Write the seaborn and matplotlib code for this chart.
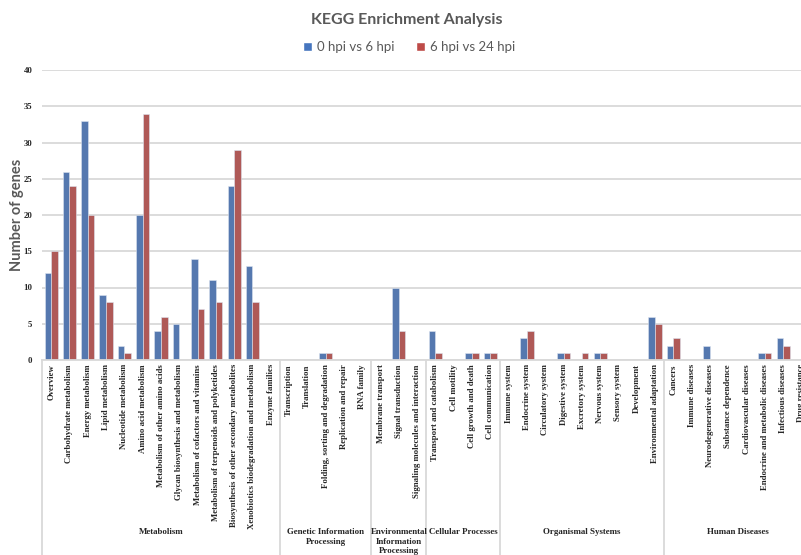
import matplotlib
matplotlib.use("Agg")
import matplotlib.pyplot as plt
import matplotlib.transforms as mtransforms
from matplotlib.lines import Line2D
from matplotlib.patches import Patch
import seaborn as sns
import pandas as pd

# KEGG level-2 pathway categories, grouped by level-1 class
metabolism = [
    "Overview", "Carbohydrate metabolism", "Energy metabolism", "Lipid metabolism",
    "Nucleotide metabolism", "Amino acid metabolism", "Metabolism of other amino acids",
    "Glycan biosynthesis and metabolism", "Metabolism of cofactors and vitamins",
    "Metabolism of terpenoids and polyketides", "Biosynthesis of other secondary metabolites",
    "Xenobiotics biodegradation and metabolism", "Enzyme families",
]
genetic = ["Transcription", "Translation", "Folding, sorting and degradation",
           "Replication and repair", "RNA family"]
environmental = ["Membrane transport", "Signal transduction",
                 "Signaling molecules and interaction"]
cellular = ["Transport and catabolism", "Cell motility", "Cell growth and death",
            "Cell communication"]
organismal = ["Immune system", "Endocrine system", "Circulatory system", "Digestive system",
              "Excretory system", "Nervous system", "Sensory system", "Development",
              "Environmental adaptation"]
diseases = ["Cancers", "Immune diseases", "Neurodegenerative diseases", "Substance dependence",
            "Cardiovascular diseases", "Endocrine and metabolic diseases",
            "Infectious diseases", "Drug resistance"]

group_names = ["Metabolism", "Genetic Information\nProcessing",
               "Environmental\nInformation\nProcessing", "Cellular Processes",
               "Organismal Systems", "Human Diseases"]
groups = [metabolism, genetic, environmental, cellular, organismal, diseases]

# gene counts per category
genes_0_6 = [12, 26, 33, 9, 2, 20, 4, 5, 14, 11, 24, 13, 0,
             0, 0, 1, 0, 0,
             0, 10, 0,
             4, 0, 1, 1,
             0, 3, 0, 1, 0, 1, 0, 0, 6,
             2, 0, 2, 0, 0, 1, 3, 0]
genes_6_24 = [15, 24, 20, 8, 1, 34, 6, 0, 7, 8, 29, 8, 0,
              0, 0, 1, 0, 0,
              0, 4, 0,
              1, 0, 1, 1,
              0, 4, 0, 1, 1, 1, 0, 0, 5,
              3, 0, 0, 0, 0, 1, 2, 0]
series = ["0 hpi vs 6 hpi", "6 hpi vs 24 hpi"]

categories = [c for g in groups for c in g]
df = pd.DataFrame({
    "category": categories * 2,
    "genes": genes_0_6 + genes_6_24,
    "comparison": [series[0]] * len(categories) + [series[1]] * len(categories),
})

blue, red = "#4675BE", "#BE4B48"
grid_c = "#D9D9D9"
text_c = "#595959"

sns.set_style("white")
fig = plt.figure(figsize=(8.01, 5.55), dpi=100)
n = len(categories)
ax = fig.add_axes([42 / 801, 195 / 555, n * 18.3 / 801, 290 / 555])

sns.barplot(data=df, x="category", y="genes", hue="comparison", order=categories,
            hue_order=series, palette=[blue, red], width=0.72, ax=ax,
            edgecolor="#DCE4F0", linewidth=0.4, legend=False)

ax.set_xlim(-0.5, n - 0.5)
ax.set_ylim(0, 40)
ax.set_yticks(range(0, 41, 5))
ax.yaxis.grid(True, color=grid_c, linewidth=1.3)
ax.set_axisbelow(True)
for s in ["top", "right", "left"]:
    ax.spines[s].set_visible(False)
ax.spines["bottom"].set_color(grid_c)
ax.spines["bottom"].set_linewidth(1.3)
ax.tick_params(axis="y", length=0, pad=7)
ax.tick_params(axis="x", length=0, pad=3)
ax.set_xticks(range(n))
ax.set_xticklabels(categories, rotation=90, fontsize=6.3, fontweight="bold",
                   family="Liberation Serif", va="top")
for lbl in ax.get_yticklabels():
    lbl.set_fontsize(6.3)
    lbl.set_fontweight("bold")
    lbl.set_family("Liberation Serif")
ax.set_xlabel("")
ax.set_ylabel("")

# class separators and class names beneath the category labels
trans = mtransforms.blended_transform_factory(ax.transData, fig.transFigure)
y_axis = 195 / 555
start = 0
bounds = [-0.5]
for g in groups:
    start += len(g)
    bounds.append(start - 0.5)
for b in bounds:
    fig.add_artist(Line2D([b, b], [0, y_axis], transform=trans, color=grid_c,
                          linewidth=1.3, clip_on=False))
for i, name in enumerate(group_names):
    mid = (bounds[i] + bounds[i + 1]) / 2
    fig.text(mid, (555 - 528) / 555, name, transform=trans, ha="center", va="top",
             fontsize=6.4, fontweight="bold", family="Liberation Serif",
             linespacing=1.25)

fig.text(407 / 801, 1 - 20 / 555, "KEGG Enrichment Analysis", ha="center", va="center",
         fontsize=11.5, fontweight="bold", color=text_c, family="Lato")
fig.text(17 / 801, 1 - 215 / 555, "Number of genes", rotation=90, ha="center",
         va="center", fontsize=10.5, fontweight="bold", color=text_c, family="Lato")

handles = [Patch(facecolor=blue), Patch(facecolor=red)]
leg = fig.legend(handles, series, loc="center", bbox_to_anchor=(409 / 801, 1 - 47 / 555),
                 ncol=2, frameon=False, handlelength=0.7, handleheight=0.7,
                 handletextpad=0.4, columnspacing=1.6,
                 prop={"family": "Lato", "size": 9.5})
for t in leg.get_texts():
    t.set_color(text_c)

fig.savefig("out.png", dpi=100)
